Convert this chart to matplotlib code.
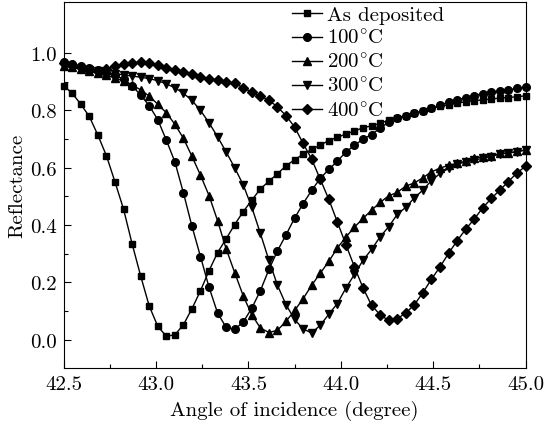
import numpy as np
import matplotlib
matplotlib.use('Agg')
import matplotlib.pyplot as plt

plt.rcParams['font.family'] = 'serif'
plt.rcParams['font.serif'] = ['cmr10']
plt.rcParams['mathtext.fontset'] = 'cm'
plt.rcParams['axes.formatter.use_mathtext'] = True

# angle grid (55 points, 42.5 - 45.0 deg)
angle = np.linspace(42.5, 45.0, 55)

as_deposited = [0.886, 0.860, 0.822, 0.779, 0.714, 0.642, 0.551, 0.456, 0.335, 0.223,
                0.118, 0.047, 0.012, 0.017, 0.052, 0.108, 0.171, 0.241, 0.304, 0.352,
                0.402, 0.447, 0.487, 0.526, 0.553, 0.579, 0.607, 0.628, 0.647, 0.664,
                0.679, 0.695, 0.706, 0.718, 0.728, 0.740, 0.746, 0.755, 0.766, 0.775,
                0.782, 0.790, 0.798, 0.808, 0.814, 0.820, 0.826, 0.830, 0.834, 0.837,
                0.840, 0.843, 0.845, 0.848, 0.851]
t100 = [0.970, 0.962, 0.955, 0.948, 0.940, 0.932, 0.922, 0.910, 0.886, 0.854,
        0.817, 0.768, 0.697, 0.621, 0.513, 0.396, 0.290, 0.183, 0.093, 0.043,
        0.036, 0.062, 0.110, 0.171, 0.245, 0.310, 0.366, 0.424, 0.475, 0.521,
        0.563, 0.594, 0.623, 0.655, 0.678, 0.700, 0.716, 0.738, 0.759, 0.773,
        0.782, 0.790, 0.798, 0.808, 0.819, 0.829, 0.837, 0.845, 0.852, 0.859,
        0.865, 0.869, 0.872, 0.877, 0.881]
t200 = [0.955, 0.950, 0.944, 0.937, 0.930, 0.922, 0.914, 0.903, 0.889, 0.872,
        0.850, 0.822, 0.792, 0.752, 0.703, 0.640, 0.574, 0.503, 0.415, 0.317,
        0.234, 0.153, 0.087, 0.041, 0.025, 0.033, 0.064, 0.102, 0.143, 0.190,
        0.232, 0.273, 0.320, 0.358, 0.393, 0.423, 0.452, 0.479, 0.502, 0.514,
        0.536, 0.547, 0.565, 0.586, 0.598, 0.609, 0.615, 0.623, 0.633, 0.639,
        0.642, 0.650, 0.652, 0.657, 0.662]
t300 = [0.955, 0.950, 0.946, 0.941, 0.936, 0.932, 0.928, 0.924, 0.920, 0.916,
        0.911, 0.904, 0.893, 0.879, 0.860, 0.835, 0.800, 0.757, 0.708, 0.655,
        0.600, 0.540, 0.462, 0.371, 0.277, 0.190, 0.122, 0.071, 0.037, 0.024,
        0.050, 0.089, 0.126, 0.180, 0.228, 0.277, 0.315, 0.359, 0.394, 0.437,
        0.462, 0.495, 0.522, 0.555, 0.580, 0.598, 0.612, 0.621, 0.627, 0.633,
        0.639, 0.648, 0.651, 0.656, 0.662]
t400 = [0.965, 0.958, 0.950, 0.940, 0.938, 0.945, 0.955, 0.962, 0.966, 0.968,
        0.965, 0.957, 0.949, 0.941, 0.934, 0.926, 0.918, 0.910, 0.906, 0.901,
        0.895, 0.879, 0.864, 0.850, 0.836, 0.812, 0.782, 0.742, 0.685, 0.630,
        0.560, 0.490, 0.411, 0.332, 0.254, 0.181, 0.120, 0.087, 0.067, 0.073,
        0.093, 0.122, 0.164, 0.211, 0.254, 0.301, 0.345, 0.385, 0.421, 0.460,
        0.493, 0.522, 0.552, 0.582, 0.605]

series = [as_deposited, t100, t200, t300, t400]
labels = ['As deposited', r'100$^{\circ}$C', r'200$^{\circ}$C', r'300$^{\circ}$C', r'400$^{\circ}$C']
markers = ['s', 'o', '^', 'v', 'D']
msizes = [4.5, 5.5, 5.5, 5.5, 4.8]

fig = plt.figure(figsize=(5.44, 4.27), dpi=100)
ax = fig.add_axes([0.117, 0.135, 0.849, 0.859])

for y, lab, m, ms in zip(series, labels, markers, msizes):
    ax.plot(angle, y, color='black', lw=1.0, marker=m, ms=ms, label=lab, clip_on=False)

ax.set_xlim(42.5, 45.0)
ax.set_ylim(-0.1, 1.18)
ax.set_xticks([42.5, 43.0, 43.5, 44.0, 44.5, 45.0])
ax.set_xticks(np.arange(42.75, 45.0, 0.5), minor=True)
ax.set_yticks([0.0, 0.2, 0.4, 0.6, 0.8, 1.0])
ax.set_yticks([0.1, 0.3, 0.5, 0.7, 0.9], minor=True)
ax.xaxis.set_major_formatter(matplotlib.ticker.FormatStrFormatter('%.1f'))
ax.yaxis.set_major_formatter(matplotlib.ticker.FormatStrFormatter('%.1f'))
ax.tick_params(which='major', direction='in', length=5, width=0.8, labelsize=15, pad=5)
ax.tick_params(which='minor', direction='in', length=3, width=0.8)
ax.set_xlabel('Angle of incidence (degree)', fontsize=15, labelpad=5)
ax.set_ylabel('Reflectance', fontsize=15, labelpad=3)

ax.legend(loc='upper left', bbox_to_anchor=(0.494, 0.99), frameon=False, fontsize=15,
          handlelength=1.45, handletextpad=0.25, labelspacing=0.23, borderpad=0.0,
          borderaxespad=0.0)

fig.savefig('out.png', dpi=100)
